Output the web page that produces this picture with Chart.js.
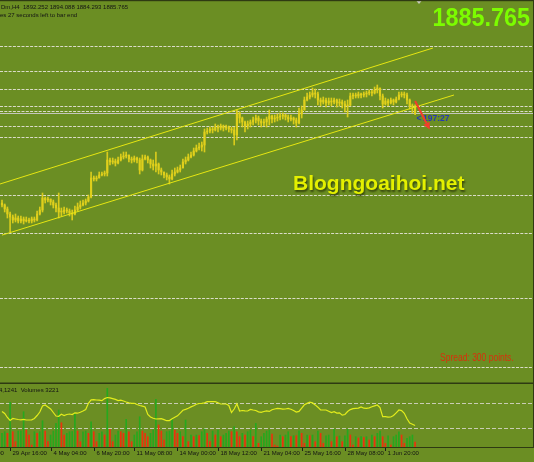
<!DOCTYPE html>
<html><head><meta charset="utf-8">
<script src="https://cdn.jsdelivr.net/npm/chart.js@4"></script>
<style>
html,body{margin:0;padding:0;background:#6b8e23;}
#wrap{position:relative;width:534px;height:462px;overflow:hidden;background:#6b8e23;}
canvas{position:absolute;left:0;}
#c1{top:0;width:534px;height:384px;}
#c2{top:384px;width:534px;height:78px;}
</style></head><body>
<div id="wrap"><canvas id="c1" width="534" height="384"></canvas><canvas id="c2" width="534" height="78"></canvas></div>
<script>
// ---- data (XAUUSD H4) ----
const firstOpen = 1796;
const closes = [
1794,1790,1785,1782,1779,1781,1778,1780,1778,1779,
1778,1780,1779,1785,1789,1801,1799,1800,1797,1794,
1791,1787,1787,1789,1788,1786,1785,1789,1792,1794,
1796,1798,1802,1821,1820,1821,1824,1825,1826,1839,
1837,1838,1836,1839,1842,1843,1844,1840,1839,1841,
1839,1829,1840,1842,1839,1835,1833,1835,1829,1827,
1824,1822,1820,1825,1827,1829,1831,1837,1839,1842,
1844,1848,1851,1852,1854,1867,1868,1870,1869,1872,
1871,1873,1871,1872,1870,1869,1864,1886,1881,1877,
1873,1875,1877,1879,1881,1878,1876,1877,1880,1883,
1880,1881,1882,1883,1884,1882,1880,1881,1879,1876,
1885,1889,1899,1902,1904,1906,1905,1899,1897,1899,
1896,1898,1897,1899,1896,1897,1895,1893,1894,1903,
1904,1903,1905,1904,1905,1906,1907,1906,1909,1911,
1903,1895,1898,1896,1899,1897,1900,1904,1905,1904,
1899,1893,1892.252,1885.765];
const highs = [
1799,1795,1792,1787,1784,1785,1783,1783,1782,1782,
1781,1782,1782,1788,1792,1806,1802,1802,1800,1799,
1796,1806,1791,1792,1791,1790,1789,1793,1796,1798,
1799,1800,1804,1827,1823,1823,1827,1827,1828,1847,
1841,1841,1840,1842,1845,1847,1847,1844,1842,1843,
1842,1841,1844,1844,1843,1840,1839,1847,1836,1831,
1827,1826,1824,1829,1831,1832,1834,1840,1842,1845,
1847,1851,1854,1856,1857,1870,1871,1872,1872,1875,
1874,1875,1874,1874,1873,1872,1872,1889,1887,1882,
1878,1878,1879,1882,1884,1883,1880,1880,1882,1889,
1884,1884,1885,1886,1886,1885,1884,1884,1882,1881,
1891,1893,1902,1906,1907,1911,1910,1907,1901,1902,
1901,1901,1901,1901,1900,1900,1899,1898,1899,1906,
1906,1906,1907,1906,1907,1908,1909,1909,1912,1914,
1911,1905,1901,1900,1901,1900,1902,1907,1907,1907,
1906,1900,1895,1894.088];
const lows = [
1792,1787,1781,1767,1776,1777,1776,1776,1775,1777,
1776,1776,1777,1778,1784,1787,1796,1797,1794,1791,
1787,1781,1783,1785,1786,1783,1779,1784,1788,1790,
1793,1794,1797,1801,1818,1818,1821,1823,1823,1823,
1834,1835,1833,1835,1838,1840,1841,1837,1836,1837,
1836,1825,1828,1839,1836,1831,1829,1827,1825,1824,
1821,1819,1815,1819,1823,1826,1827,1831,1835,1838,
1841,1843,1847,1849,1848,1847,1865,1866,1866,1868,
1867,1869,1868,1869,1867,1866,1854,1859,1876,1872,
1867,1870,1872,1874,1876,1874,1872,1873,1872,1874,
1876,1877,1878,1879,1880,1879,1877,1878,1875,1872,
1875,1881,1889,1898,1900,1902,1901,1894,1893,1895,
1892,1894,1893,1895,1892,1893,1891,1887,1882,1893,
1900,1901,1901,1901,1902,1902,1904,1903,1905,1906,
1899,1891,1894,1893,1895,1894,1896,1899,1902,1901,
1895,1890,1886,1884.293];
const volumes = [
8900,9950,8900,29050,9950,3450,10400,10600,22950,11050,
7800,1300,9950,8900,9950,17100,10400,3450,7800,10400,
15400,24050,15800,7800,8900,9950,10100,21900,10400,3450,
9950,10400,8900,16450,9950,3450,8900,9950,7800,38150,
11500,3450,7800,10400,9950,8900,18000,9950,3450,7800,
9950,19700,10400,8900,6700,8900,11050,31000,14300,10400,
4550,9950,10400,18000,11050,8900,9950,6700,17550,3450,
7800,6700,7800,7450,9950,11700,8900,3450,10400,7800,
11050,6700,7800,8900,10400,9950,13200,9950,6700,8900,
7800,9950,11050,6700,15400,2400,6700,8900,10400,11050,
8450,1300,650,7800,6700,7800,9950,6700,7350,7300,
10600,8900,2400,7800,7350,7800,3450,10400,8900,2400,
7350,7800,3450,11500,6700,7150,3450,7350,11500,7800,
1300,6700,5850,6700,6200,6700,4550,7800,6700,8900,
10400,6700,2400,7350,1300,6700,7800,9950,7800,2400,
5650,6700,7800,3221];
const indicator = [
17.75,16.75,14.75,13.25,14.25,14,13.75,13.6,13.85,13.5,
13.5,13.6,14.25,15.75,17.5,20.5,21,20,19,17.25,
15.5,15.35,16.4,15.75,16.25,16.5,16.25,17.1,16.9,17.35,
18,18.75,21.85,23.6,23.65,23.5,23.4,23.15,24.2,24.75,
24.6,24.2,23.8,23.2,23.4,23,22.5,22.05,21.85,21.85,
21.25,20.75,20.4,20,16.25,15,14.35,14,14.1,14.2,
13.7,13.15,13.2,14.1,14.85,15.6,16.95,18.35,18.8,19.35,
20.05,20.6,21.4,21.75,21.85,22.1,22.65,22.65,22.65,22.65,
22.15,21.5,21.5,21.5,20.75,17.25,19,21.6,18,18.25,
18.1,18,18.8,18.5,18.25,17.6,17.35,17.75,18.1,17.8,
18.65,19,19.35,19.15,18.9,19,19.3,18.85,18.25,17.5,
17.8,19.45,21.1,21.8,22.4,22.05,21.05,19.9,18.55,18.5,
18.5,17.9,17.25,17.65,16.95,17.05,15.9,16.25,17.75,18.7,
19.2,19.35,19.45,20.05,19.4,19.35,19.6,20.1,20.55,21,
19.7,15.15,15.15,14.95,15,15.75,17.1,18.5,18.2,16.85,
14.1,11.95,11.4,10.75];
const channelUpper = [[-0.74,1815],[159.6,1951]];
const channelLower = [[0,1763.9],[167.4,1904]];
const levels = [1953.3,1928,1909.7,1893.3,1888.3,1872.7,1862,1804,1766.3,1701,1631.7];
const bidPrice = 1885.765;
const volLevels = [28440,12170];
const tickIndex = [-13,3,18,34,49,65,80,96,111,127,142];
const tickLabels = ['27 Apr 04:00','29 Apr 16:00','4 May 04:00','6 May 20:00','11 May 08:00','14 May 00:00','18 May 12:00','21 May 04:00','25 May 16:00','28 May 08:00','1 Jun 20:00'];
const arrowFrom = [153,1898], arrowTo = [158.4,1869.5];
const timerLabel = '197:27';
const headerLine1 = 'Dm,H4  1892.252 1894.088 1884.293 1885.765';
const headerLine2 = 'es 27 seconds left to bar end';
const volLabel = '4,1241  Volumes 3221';

// ---- styling ----
const X_MIN = -0.7407, X_MAX = 196.667;
const CANDLE = 'rgba(226,208,28,0.92)', CHAN = '#e6e612', DARK = '#2e3a12';
const GREEN = '#26a81e', RED = '#ec320c';
const FONT = '"Liberation Sans", Arial, sans-serif';
const opens = closes.map((c,i)=> i===0 ? firstOpen : closes[i-1]);

function dashH(ctx, y, x0, x1, color, dash){
  ctx.save(); ctx.strokeStyle=color; ctx.lineWidth=1; ctx.setLineDash(dash);
  const yy=Math.round(y)+0.5; ctx.beginPath(); ctx.moveTo(x0,yy); ctx.lineTo(x1,yy); ctx.stroke(); ctx.restore();
}

const mainPlugin = {
  id:'mainDeco',
  beforeDatasetsDraw(chart){
    const ctx=chart.ctx, ys=chart.scales.y;
    levels.forEach(p=>dashH(ctx, ys.getPixelForValue(p), 0, 533, '#dadcc8', [3,1.3]));
    ctx.save(); ctx.strokeStyle='#c4c6bc'; ctx.lineWidth=1;
    const by=Math.round(ys.getPixelForValue(bidPrice))+0.5;
    ctx.beginPath(); ctx.moveTo(0,by); ctx.lineTo(533,by); ctx.stroke(); ctx.restore();
  },
  afterDatasetsDraw(chart){
    const ctx=chart.ctx, xs=chart.scales.x, ys=chart.scales.y;
    const x1=xs.getPixelForValue(arrowFrom[0]), y1=ys.getPixelForValue(arrowFrom[1]);
    const x2=xs.getPixelForValue(arrowTo[0]), y2=ys.getPixelForValue(arrowTo[1]);
    const ang=Math.atan2(y2-y1,x2-x1), hl=7, hw=3.5;
    ctx.save();
    // timer label
    ctx.fillStyle='#2638b4'; ctx.font='bold 8.5px '+FONT; ctx.textBaseline='alphabetic';
    ctx.fillText('<', 416.5, 121); ctx.fillText(timerLabel, 423, 121);
    // arrow
    ctx.strokeStyle='#f23c2c'; ctx.fillStyle='#f23c2c'; ctx.lineWidth=2;
    ctx.beginPath(); ctx.moveTo(x1,y1); ctx.lineTo(x2-hl*Math.cos(ang), y2-hl*Math.sin(ang)); ctx.stroke();
    ctx.beginPath(); ctx.moveTo(x2,y2);
    ctx.lineTo(x2-hl*Math.cos(ang)+hw*Math.sin(ang), y2-hl*Math.sin(ang)-hw*Math.cos(ang));
    ctx.lineTo(x2-hl*Math.cos(ang)-hw*Math.sin(ang), y2-hl*Math.sin(ang)+hw*Math.cos(ang));
    ctx.closePath(); ctx.fill();
    // header text
    ctx.fillStyle='#141414'; ctx.font='6px '+FONT;
    ctx.fillText(headerLine1, 1, 9); ctx.fillText(headerLine2, 0, 17);
    // big price
    ctx.save(); ctx.font='bold 26px '+FONT; ctx.fillStyle='#7cfc00'; ctx.textAlign='right';
    ctx.translate(530,26); ctx.scale(0.9,1); ctx.fillText(bidPrice.toFixed(3),0,0); ctx.restore();
    // watermark
    ctx.save(); ctx.font='bold 21px '+FONT; ctx.fillStyle='#e4f000';
    ctx.shadowColor='rgba(35,45,5,0.75)'; ctx.shadowOffsetX=1; ctx.shadowOffsetY=2; ctx.shadowBlur=2;
    ctx.fillText('Blogngoaihoi.net', 293, 190); ctx.restore();
    // spread
    ctx.save(); ctx.font='10px '+FONT; ctx.fillStyle='#d8300c';
    ctx.translate(440,360.5); ctx.scale(0.85,1); ctx.fillText('Spread: 300 points.',0,0); ctx.restore();
    // triangle marker
    ctx.fillStyle='#c8cabc'; ctx.beginPath(); ctx.moveTo(416.5,1); ctx.lineTo(421.5,1); ctx.lineTo(419,4); ctx.closePath(); ctx.fill();
    // borders
    ctx.fillStyle=DARK; ctx.fillRect(0,0,534,1.2); ctx.fillRect(533,0,1,384); ctx.fillRect(0,382.5,534,1.5);
    ctx.restore();
  }
};

new Chart(document.getElementById('c1'), {
  type:'bar',
  data:{datasets:[
    {type:'line', data:channelUpper.map(p=>({x:p[0],y:p[1]})), borderColor:CHAN, borderWidth:1, pointRadius:0},
    {type:'line', data:channelLower.map(p=>({x:p[0],y:p[1]})), borderColor:CHAN, borderWidth:1, pointRadius:0},
    {data:closes.map((c,i)=>({x:i,y:[opens[i],c]})), backgroundColor:CANDLE, barThickness:1.5, grouped:false, minBarLength:1},
    {data:highs.map((h,i)=>({x:i,y:[lows[i],h]})), backgroundColor:CANDLE, barThickness:1, grouped:false}
  ]},
  options:{
    responsive:false, animation:false, events:[],
    layout:{padding:{left:0,right:1,top:2,bottom:1}},
    plugins:{legend:{display:false}, tooltip:{enabled:false}},
    scales:{
      x:{type:'linear', min:X_MIN, max:X_MAX, display:false, offset:false},
      y:{type:'linear', min:1616, max:1997, display:false}
    }
  },
  plugins:[mainPlugin]
});

const volPlugin = {
  id:'volDeco',
  beforeDatasetsDraw(chart){
    const ctx=chart.ctx, ys=chart.scales.yv;
    volLevels.forEach(v=>dashH(ctx, ys.getPixelForValue(v), 0, 533, '#c9ccb4', [4,2]));
  },
  afterDraw(chart){
    const ctx=chart.ctx, xs=chart.scales.x;
    ctx.save();
    ctx.fillStyle='#141414'; ctx.font='6px '+FONT; ctx.textBaseline='alphabetic';
    ctx.fillText(volLabel, -1, 8);
    ctx.fillStyle=DARK; ctx.fillRect(533,0,1,63.5); ctx.fillRect(0,63,534,1);
    ctx.strokeStyle='#1c1c1c'; ctx.lineWidth=1;
    tickIndex.forEach((t,k)=>{
      const px=Math.round(xs.getPixelForValue(t))+0.5;
      ctx.beginPath(); ctx.moveTo(px,64); ctx.lineTo(px,67); ctx.stroke();
      ctx.fillStyle='#141414'; ctx.fillText(tickLabels[k], px+2, 71);
    });
    ctx.restore();
  }
};

new Chart(document.getElementById('c2'), {
  type:'bar',
  data:{datasets:[
    {type:'line', data:indicator.map((v,i)=>({x:i,y:v})), yAxisID:'yl', borderColor:'#e2ec1c', borderWidth:1.2, pointRadius:0, tension:0},
    {data:volumes.map((v,i)=>({x:i,y:v})), yAxisID:'yv', barThickness:1, grouped:false,
     backgroundColor:volumes.map((v,i)=> (i>0 && v<=volumes[i-1]) ? RED : GREEN)}
  ]},
  options:{
    responsive:false, animation:false, events:[],
    layout:{padding:{left:0,right:1,top:0,bottom:15}},
    plugins:{legend:{display:false}, tooltip:{enabled:false}},
    scales:{
      x:{type:'linear', min:X_MIN, max:X_MAX, display:false, offset:false},
      yv:{type:'linear', min:0, max:41000, display:false},
      yl:{type:'linear', min:0, max:31.5, display:false}
    }
  },
  plugins:[volPlugin]
});
</script>
</body></html>
